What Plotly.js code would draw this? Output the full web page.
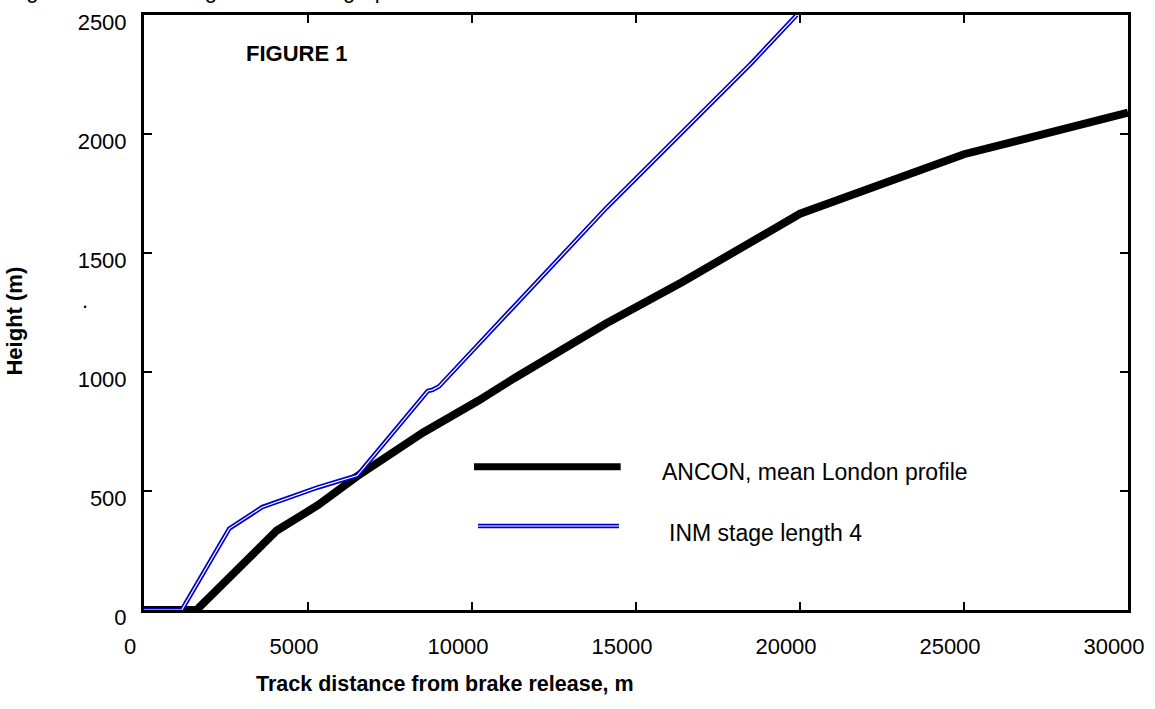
<!DOCTYPE html>
<html>
<head>
<meta charset="utf-8">
<script src="https://cdn.plot.ly/plotly-3.0.1.min.js"></script>
<style>
html,body{margin:0;padding:0;background:#fff;}
#chart{width:1155px;height:709px;}
</style>
</head>
<body>
<div id="chart"></div>
<script>
// ANCON, mean London profile
const ancon_x = [0, 1600, 4050, 5300, 6500, 7350, 8500, 10200, 11300, 14100, 16400, 20000, 25000, 30000];
const ancon_y = [0, 0, 334, 440, 562, 640, 745, 880, 975, 1205, 1377, 1665, 1915, 2090];

// INM stage length 4
const inm_x = [0, 1150, 2600, 3600, 5300, 6500, 8650, 8800, 9000, 14100, 18500, 19900];
const inm_y = [0, 0, 342, 432, 515, 565, 920, 925, 940, 1690, 2295, 2500];

const xTicks = [0, 5000, 10000, 15000, 20000, 25000, 30000];
const yTicks = [0, 500, 1000, 1500, 2000, 2500];

const seriesNames = ["ANCON, mean London profile", "INM stage length 4"];

const FONT = "Liberation Sans, Arial, sans-serif";

const traces = [
  {x: ancon_x, y: ancon_y, mode: "lines", name: seriesNames[0],
   line: {color: "#000000", width: 8}, showlegend: false, hoverinfo: "skip"},
  {x: inm_x, y: inm_y, mode: "lines", name: seriesNames[1],
   line: {color: "#0000c8", width: 4.6}, showlegend: false, hoverinfo: "skip"},
  {x: inm_x, y: inm_y, mode: "lines", name: seriesNames[1] + " (inner)",
   line: {color: "#ffffff", width: 1.2}, showlegend: false, hoverinfo: "skip"}
];

const axisCommon = {
  showgrid: false, zeroline: false, showline: true, linecolor: "#000", linewidth: 3,
  mirror: "ticks", ticks: "inside", ticklen: 8, tickwidth: 2, tickcolor: "#000",
  tickfont: {family: FONT, size: 22, color: "#000"}
};

const layout = {
  width: 1155, height: 709,
  margin: {l: 144, r: 27, t: 15, b: 99},
  paper_bgcolor: "#fff", plot_bgcolor: "#fff",
  showlegend: false,
  xaxis: Object.assign({}, axisCommon, {
    range: [0, 30000], tickvals: xTicks, ticktext: xTicks.map(String),
    ticklabelstandoff: 15, ticklabelshift: -14
  }),
  yaxis: Object.assign({}, axisCommon, {
    range: [0, 2500], tickvals: yTicks, ticktext: yTicks.map(String),
    ticklabelstandoff: 10, ticklabelshift: 7
  }),
  shapes: [
    {type: "line", xref: "paper", yref: "paper", x0: 0.3354, x1: 0.4844, y0: 0.2408, y1: 0.2408,
     line: {color: "#000", width: 7}},
    {type: "line", xref: "paper", yref: "paper", x0: 0.3394, x1: 0.4827, y0: 0.1412, y1: 0.1412,
     line: {color: "#0000c8", width: 4.6}},
    {type: "line", xref: "paper", yref: "paper", x0: 0.3394, x1: 0.4827, y0: 0.1412, y1: 0.1412,
     line: {color: "#fff", width: 1.2}}
  ],
  annotations: [
    {text: "ANCON, mean London profile", xref: "paper", yref: "paper", x: 0.5244, y: 0.2324,
     xanchor: "left", yanchor: "middle", showarrow: false, font: {family: FONT, size: 23, color: "#000"}},
    {text: "INM stage length 4", xref: "paper", yref: "paper", x: 0.5312, y: 0.1294,
     xanchor: "left", yanchor: "middle", showarrow: false, font: {family: FONT, size: 23, color: "#000"}},
    {text: "<b>FIGURE 1</b>", xref: "paper", yref: "paper", x: 0.155, y: 0.935,
     xanchor: "center", yanchor: "middle", showarrow: false, font: {family: FONT, size: 22, color: "#000"}},
    {text: "<b>Height (m)</b>", xref: "paper", yref: "paper", x: -0.132, y: 0.485, textangle: -90,
     xanchor: "center", yanchor: "middle", showarrow: false, font: {family: FONT, size: 22, color: "#000"}},
    {text: "<b>Track distance from brake release, m</b>", xref: "paper", yref: "paper", x: 0.306, y: -0.125,
     xanchor: "center", yanchor: "middle", showarrow: false, font: {family: FONT, size: 21.5, color: "#000"}},
    {text: ".", xref: "paper", yref: "paper", x: -0.06, y: 0.52,
     xanchor: "center", yanchor: "middle", showarrow: false, font: {family: FONT, size: 22, color: "#000"}},
    {text: "Figure 1. Aircraft height - distance graph", xref: "paper", yref: "paper", x: -0.14, y: 1.0168,
     xanchor: "left", yanchor: "bottom", showarrow: false, font: {family: FONT, size: 22, color: "#000"}}
  ]
};

Plotly.newPlot("chart", traces, layout, {staticPlot: true, displayModeBar: false});
</script>
</body>
</html>
